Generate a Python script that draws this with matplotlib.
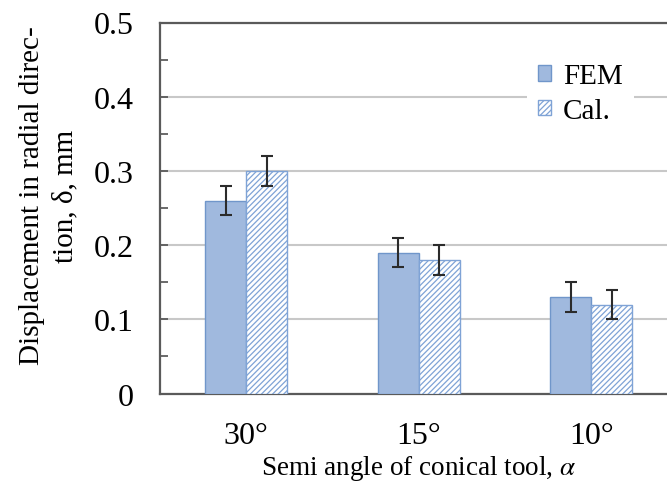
import matplotlib
matplotlib.use("Agg")
import matplotlib.pyplot as plt
import numpy as np

categories = ["30°", "15°", "10°"]
fem = [0.26, 0.19, 0.13]
cal = [0.30, 0.18, 0.12]
fem_err = [0.02, 0.02, 0.02]
cal_err = [0.02, 0.02, 0.02]

plt.rcParams['font.family'] = ['Liberation Serif', 'DejaVu Serif']
plt.rcParams['mathtext.fontset'] = 'stix'
plt.rcParams['hatch.linewidth'] = 0.9

fig = plt.figure(figsize=(6.67, 4.89), dpi=100)
ax = fig.add_axes([160/667, 1-394.6/489, (677.5-160)/667, (394.6-23.5)/489])

x = np.arange(len(categories))
w = 0.237
ax.bar(x - w/2, fem, w, color='#A0B9DE', edgecolor='#7096CA', linewidth=1.0,
       yerr=fem_err, capsize=4, error_kw=dict(ecolor='#2b2b2b', elinewidth=1.5, capthick=1.5),
       label='FEM', zorder=3)
ax.bar(x + w/2, cal, w, color='white', edgecolor='#7FA3D6', hatch='//////', linewidth=1.0,
       yerr=cal_err, capsize=4, error_kw=dict(ecolor='#2b2b2b', elinewidth=1.5, capthick=1.5),
       label='Cal.', zorder=3)

ax.set_xlim(-0.5, 2.5)
ax.set_ylim(0, 0.5)
ax.set_yticks([0, 0.1, 0.2, 0.3, 0.4, 0.5])
ax.set_yticklabels(["0", "0.1", "0.2", "0.3", "0.4", "0.5"])
ax.set_yticks(np.arange(0.05, 0.5, 0.1), minor=True)
ax.set_xticks(x)
ax.set_xticklabels(categories)
ax.yaxis.grid(True, color='#C8C8C8', linewidth=1.5, zorder=0)
ax.set_axisbelow(True)
ax.tick_params(axis='y', which='both', direction='in', length=6, width=1.2, color='#505050',
               labelsize=23, pad=19)
ax.tick_params(axis='x', length=0, labelsize=23, pad=20)
for s in ['left', 'bottom', 'top']:
    ax.spines[s].set_color('#5a5a5a')
    ax.spines[s].set_linewidth(1.6)
ax.spines['right'].set_visible(False)

ax.set_xlabel(r"Semi angle of conical tool, $\alpha$", fontsize=19.5, labelpad=2)
ax.set_ylabel("Displacement in radial direc-\ntion, δ, mm", fontsize=21,
              linespacing=1.4)
ax.yaxis.set_label_coords(-0.157, 0.535)

leg = ax.legend(loc='upper left', bbox_to_anchor=(512/667, 1-38/489),
                bbox_transform=fig.transFigure, fontsize=21, frameon=True,
                handlelength=0.45, handleheight=0.45, handletextpad=0.4,
                labelspacing=0.3, borderpad=0.4)
leg.get_frame().set_edgecolor('none')
leg.get_frame().set_facecolor('white')
leg.get_frame().set_alpha(1)

fig.savefig("out.png", dpi=100)
